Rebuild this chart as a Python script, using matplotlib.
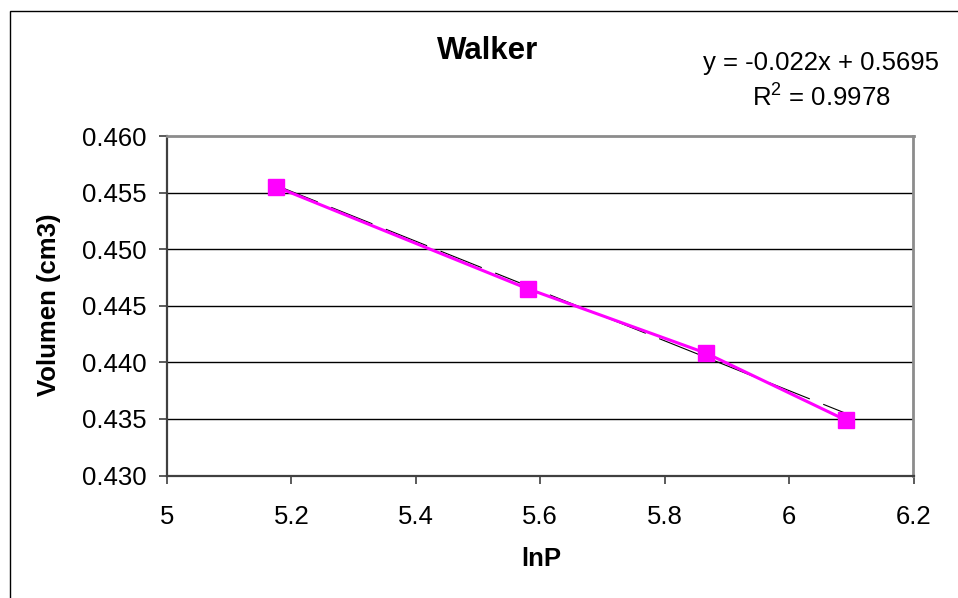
import matplotlib
matplotlib.use("Agg")
import matplotlib.pyplot as plt
from matplotlib.patches import Rectangle
import numpy as np

plt.rcParams['font.family'] = ['Liberation Sans', 'DejaVu Sans']
plt.rcParams['mathtext.fontset'] = 'custom'
plt.rcParams['mathtext.rm'] = 'Liberation Sans'
plt.rcParams['mathtext.it'] = 'Liberation Sans'

# Data: ln(P) against volume
ln_p = [5.176, 5.580, 5.867, 6.091]
volumen = [0.4555, 0.4465, 0.4408, 0.4349]

# Linear trendline coefficients
slope = -0.022
intercept = 0.5695
r_squared = 0.9978

title = "Walker"
x_label = "lnP"
y_label = "Volumen (cm3)"
x_ticks = [5.0, 5.2, 5.4, 5.6, 5.8, 6.0, 6.2]
x_tick_labels = ["5", "5.2", "5.4", "5.6", "5.8", "6", "6.2"]
y_ticks = [0.430, 0.435, 0.440, 0.445, 0.450, 0.455, 0.460]

W, H = 958, 598
fig = plt.figure(figsize=(W / 100, H / 100), dpi=100)
fig.patch.set_facecolor("white")

# outer chart frame
fig.add_artist(Rectangle((10 / W, 0 - 0.1), 1.2, 1 - 11 / H + 0.1,
                         transform=fig.transFigure, fill=False,
                         edgecolor="black", linewidth=1.0))

ax = fig.add_axes([167 / W, 1 - 475.5 / H, (913.5 - 167) / W, (475.5 - 136) / H])
ax.set_facecolor("white")
ax.set_xlim(5.0, 6.2)
ax.set_ylim(0.430, 0.460)

# horizontal gridlines
for yv in y_ticks[1:-1]:
    ax.axhline(yv, color="black", linewidth=1.0, zorder=1)

# trendline
xt = np.array([min(ln_p), max(ln_p)])
ax.plot(xt, slope * xt + intercept, color="black", linewidth=0.8,
        linestyle=(0, (40, 13)), zorder=3)

# data series
ax.plot(ln_p, volumen, color="#FF00FF", linewidth=2.2, marker="s",
        markersize=11, markerfacecolor="#FF00FF", markeredgecolor="#FF00FF",
        zorder=4, clip_on=False)

ax.set_xticks(x_ticks)
ax.set_xticklabels(x_tick_labels)
ax.set_yticks(y_ticks)
ax.set_yticklabels([f"{v:.3f}" for v in y_ticks])
ax.tick_params(axis="both", direction="out", length=6, width=1.2,
               color="#404040", labelsize=18.5, labelcolor="black")
ax.tick_params(axis="y", pad=8.5)
ax.tick_params(axis="x", pad=15.5)

for side in ("left", "bottom"):
    ax.spines[side].set_color("#404040")
    ax.spines[side].set_linewidth(1.6)
for side in ("top", "right"):
    ax.spines[side].set_color("#8c8c8c")
    ax.spines[side].set_linewidth(2.0)

fig.text(488 / W, 1 - 51 / H, title, fontsize=22.5, fontweight="bold",
         ha="center", va="center")
fig.text(541 / W, 1 - 559 / H, x_label, fontsize=18.5, fontweight="bold",
         ha="center", va="center")
fig.text(49 / W, 1 - 305 / H, y_label, fontsize=18.5, fontweight="bold",
         ha="center", va="center", rotation=90)

fig.text(821 / W, 1 - 63 / H, f"y = {slope:.3f}x + {intercept:.4f}",
         fontsize=18.5, ha="center", va="center")
fig.text(821 / W, 1 - 98 / H, f"R$^{{2}}$ = {r_squared:.4f}",
         fontsize=18.5, ha="center", va="center")

fig.savefig("out.png", dpi=100)
